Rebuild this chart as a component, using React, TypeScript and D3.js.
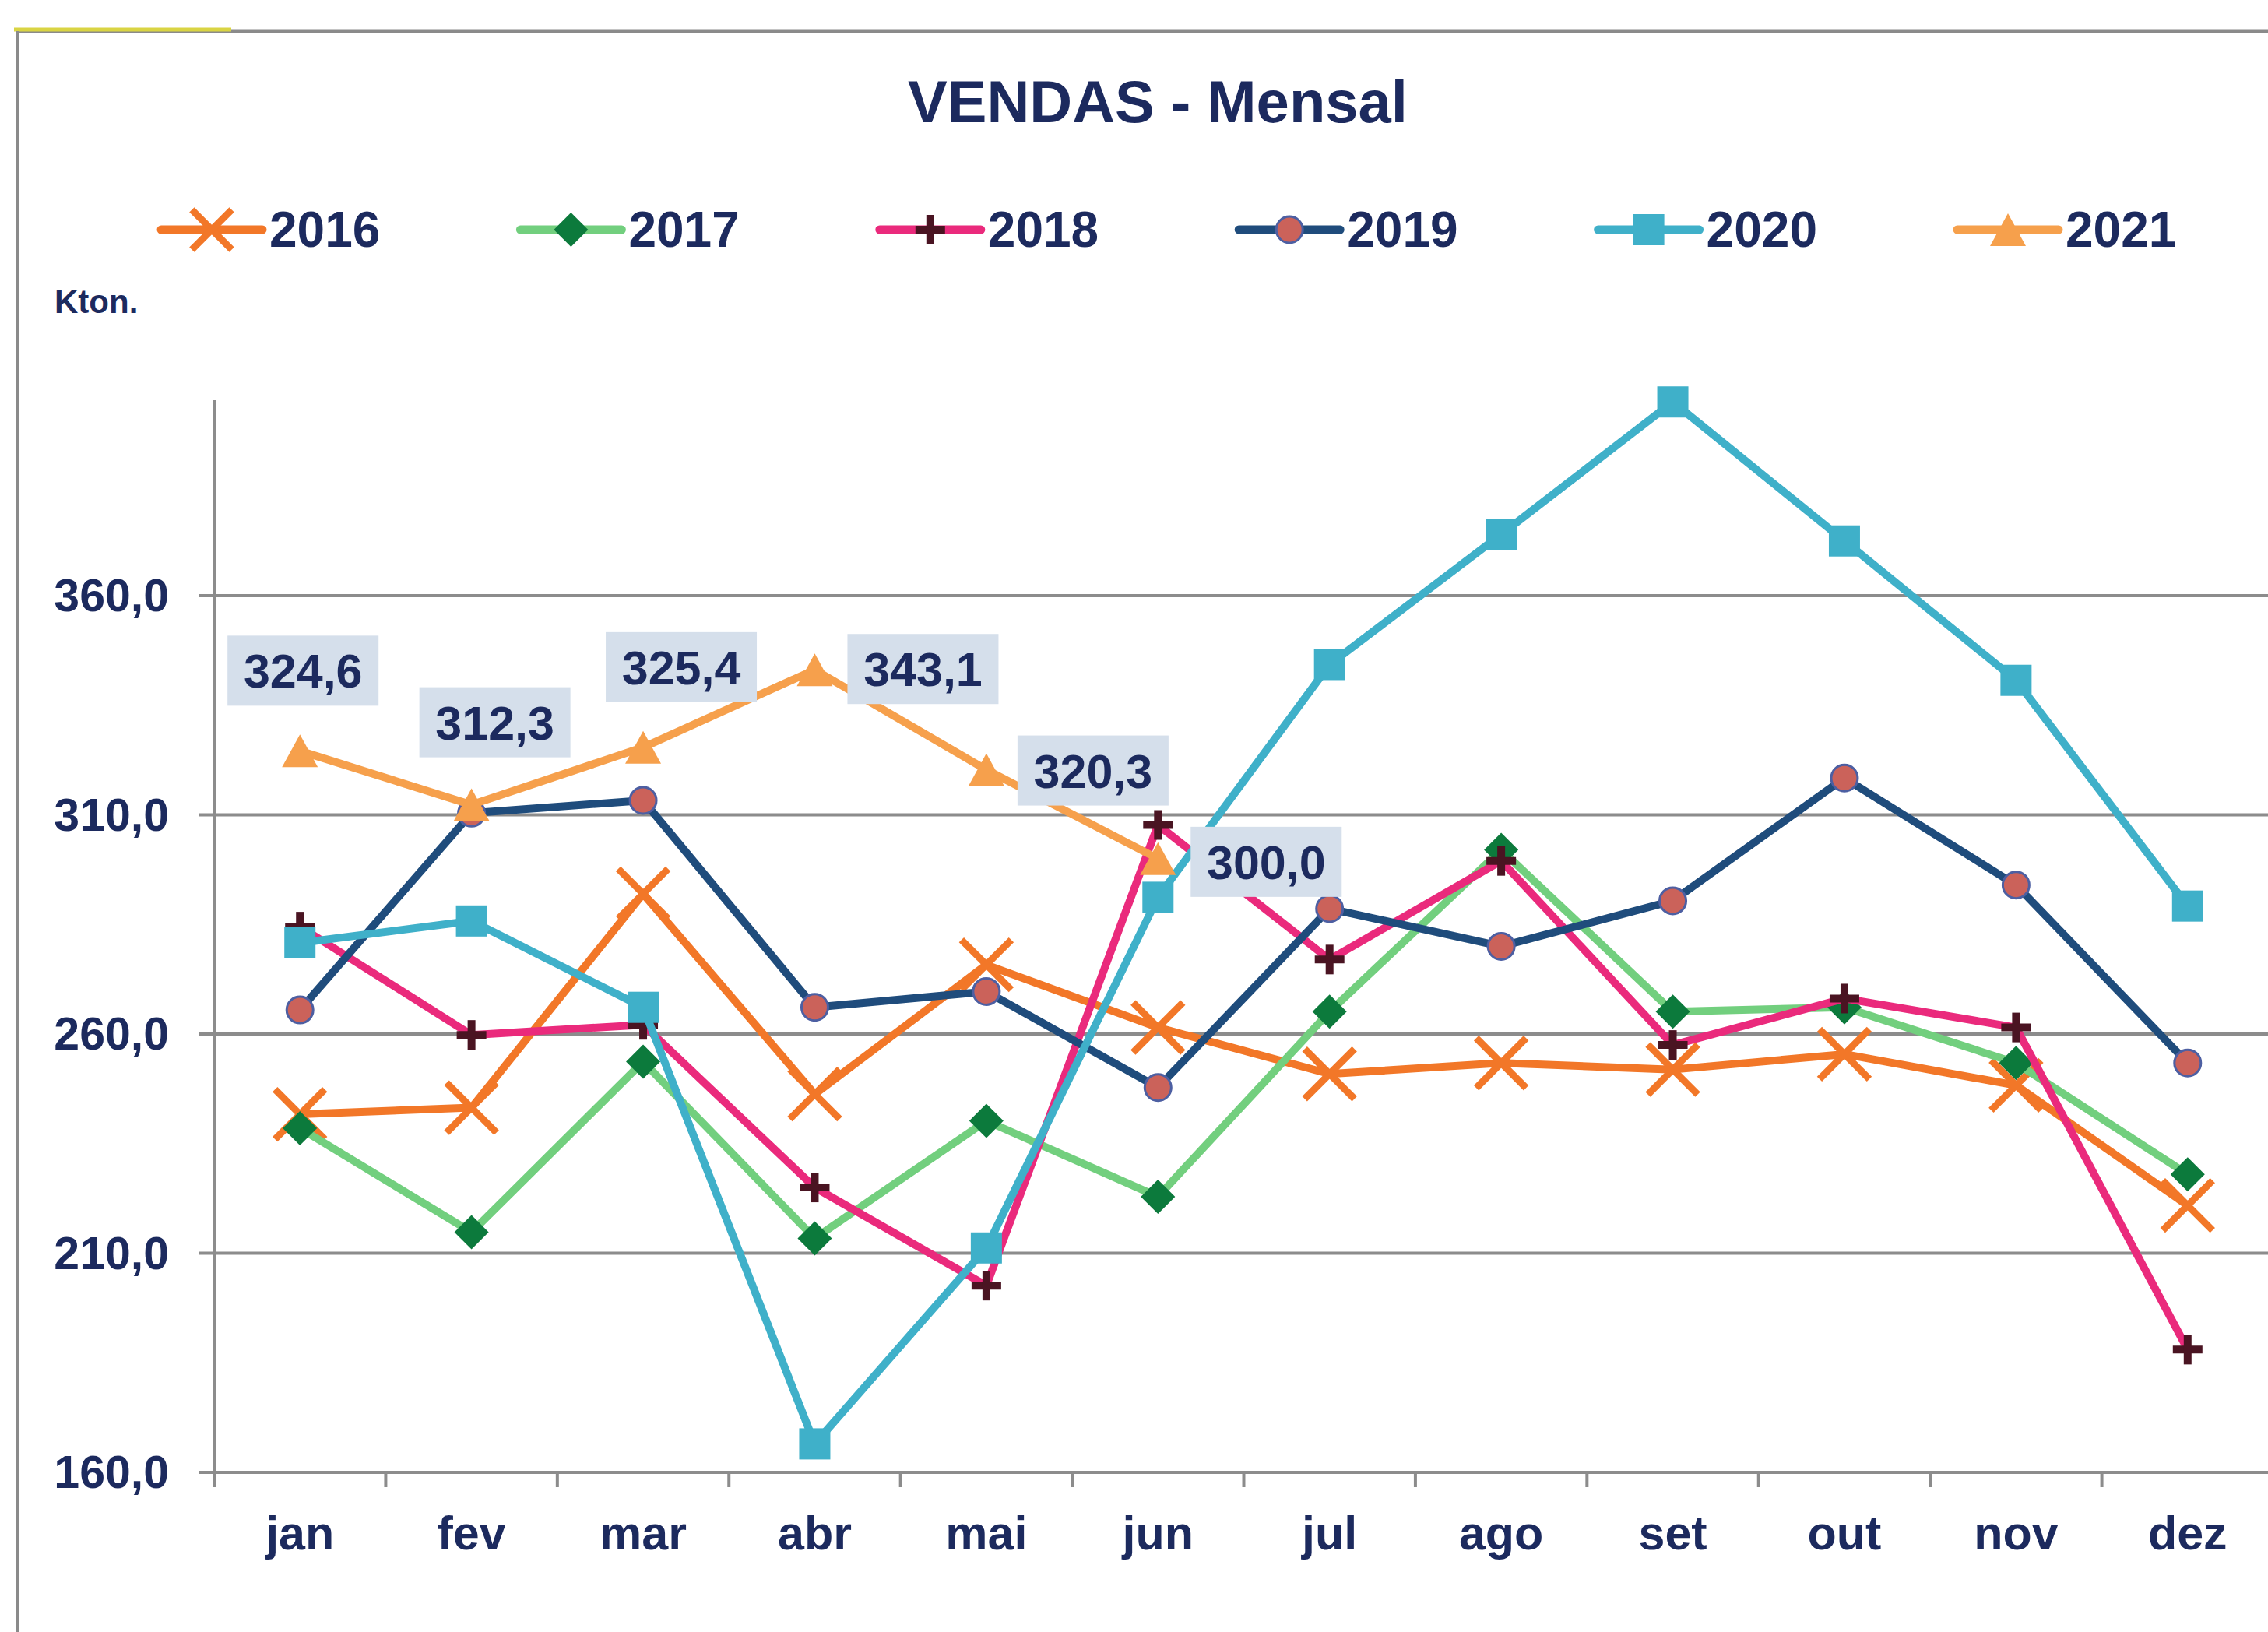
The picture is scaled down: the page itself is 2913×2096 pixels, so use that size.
import React from "react";
import * as d3 from "d3";

const months = ["jan", "fev", "mar", "abr", "mai", "jun", "jul", "ago", "set", "out", "nov", "dez"];
const years = ["2016", "2017", "2018", "2019", "2020", "2021"];

const v2016 = [241.7, 243.2, 292.0, 246.3, 275.8, 261.5, 250.9, 253.4, 251.9, 255.4, 248.3, 220.9];
const v2017 = [238.5, 214.8, 253.7, 213.4, 240.2, 222.9, 265.1, 302.0, 265.1, 266.1, 253.4, 228.0];
const v2018 = [284.5, 259.8, 262.1, 225.0, 202.6, 307.7, 277.0, 299.5, 257.5, 268.1, 261.5, 188.0];
const v2019 = [265.5, 310.4, 313.3, 266.1, 269.7, 247.8, 288.6, 280.0, 290.4, 318.4, 294.0, 253.4];
const v2020 = [280.8, 285.8, 266.1, 166.5, 211.2, 291.2, 344.3, 374.0, 404.2, 372.5, 340.7, 289.2];
const v2021 = [324.6, 312.3, 325.4, 343.1, 320.3, 300.0];

const yTicks = [160, 210, 260, 310, 360];
const yMin = 160;
const yMax = 404.6;

// label box placement offsets (layout only) for the 2021 data labels
const labelOffsets: [number, number][] = [
  [4, -103], [30, -106], [49, -103], [139, -1], [137, 1], [139, 4],
];

const W = 2913;
const H = 2096;
const NAVY = "#1c2a5e";
const FONT = "'Liberation Sans', Arial, Helvetica, sans-serif";

type Series = {
  name: string;
  values: number[];
  line: string;
  marker: string;
  fill: string;
  stroke?: string;
};

const seriesList: Series[] = [
  { name: years[0], values: v2016, line: "#f27728", marker: "x", fill: "#f27728" },
  { name: years[1], values: v2017, line: "#72cf7e", marker: "diamond", fill: "#0c7a3c" },
  { name: years[2], values: v2018, line: "#ea2a7c", marker: "plus", fill: "#4a1422" },
  { name: years[3], values: v2019, line: "#1f4c7c", marker: "circle", fill: "#cb625a", stroke: "#4d5fa2" },
  { name: years[4], values: v2020, line: "#3fb0c9", marker: "square", fill: "#3fb0c9" },
  { name: years[5], values: v2021, line: "#f6a04c", marker: "triangle", fill: "#f6a04c" },
];

function Marker({ kind, x, y, fill, stroke, scale = 1 }: { kind: string; x: number; y: number; fill: string; stroke?: string; scale?: number }) {
  const s = scale;
  switch (kind) {
    case "x": {
      const h = 32 * s;
      return (
        <g stroke={fill} strokeWidth={9} strokeLinecap="butt">
          <line x1={x - h} y1={y - h} x2={x + h} y2={y + h} />
          <line x1={x - h} y1={y + h} x2={x + h} y2={y - h} />
        </g>
      );
    }
    case "diamond": {
      const h = 22 * s;
      return <path d={`M${x},${y - h}L${x + h},${y}L${x},${y + h}L${x - h},${y}Z`} fill={fill} />;
    }
    case "plus": {
      const h = 19 * s;
      return (
        <g stroke={fill} strokeWidth={10}>
          <line x1={x - h} y1={y} x2={x + h} y2={y} />
          <line x1={x} y1={y - h} x2={x} y2={y + h} />
        </g>
      );
    }
    case "circle":
      return <circle cx={x} cy={y} r={17 * s} fill={fill} stroke={stroke} strokeWidth={3} />;
    case "square": {
      const h = 20 * s;
      return <rect x={x - h} y={y - h} width={2 * h} height={2 * h} fill={fill} />;
    }
    case "triangle": {
      const hw = 23 * s;
      const hh = 21 * s;
      return <path d={`M${x},${y - hh}L${x + hw},${y + hh}L${x - hw},${y + hh}Z`} fill={fill} />;
    }
    default:
      return null;
  }
}

export default function App() {
  const plotLeft = 275;
  const plotRight = 2920;
  const plotTop = 514;
  const plotBottom = 1891;

  const x = d3.scaleBand<string>().domain(months).range([plotLeft, plotRight]).padding(0);
  const y = d3.scaleLinear().domain([yMin, yMax]).range([plotBottom, plotTop]);
  const cx = (m: string) => (x(m) as number) + x.bandwidth() / 2;

  const locale = d3.formatLocale({ decimal: ",", thousands: ".", grouping: [3], currency: ["R$", ""] });
  const fmt = locale.format(".1f");

  const lineGen = d3
    .line<number>()
    .x((_, i) => cx(months[i]))
    .y((d) => y(d));

  const legendStart = 346;
  const legendStep = 461.4;
  const legendY = 295;

  return (
    <svg
      width={W}
      height={H}
      viewBox={`0 0 ${W} ${H}`}
      style={{ position: "absolute", left: 0, top: 0, background: "#fff" }}
      fontFamily={FONT}
    >
      <rect x={0} y={0} width={W} height={H} fill="#fff" />
      {/* chart frame */}
      <line x1={20} y1={40} x2={W} y2={40} stroke="#8a8a8a" strokeWidth={5} />
      <line x1={18} y1={38} x2={297} y2={38} stroke="#d9d443" strokeWidth={5} />
      <line x1={22} y1={40} x2={22} y2={H} stroke="#8a8a8a" strokeWidth={4} />

      {/* title */}
      <text x={1487} y={157} textAnchor="middle" fontSize={76} fontWeight="bold" fill={NAVY}>
        VENDAS - Mensal
      </text>

      {/* legend */}
      {seriesList.map((s, i) => {
        const tx = legendStart + i * legendStep;
        const mx = tx - 74;
        return (
          <g key={s.name}>
            <line x1={tx - 139} y1={legendY} x2={tx - 9} y2={legendY} stroke={s.line} strokeWidth={11} strokeLinecap="round" />
            <Marker kind={s.marker} x={mx} y={legendY} fill={s.fill} stroke={s.stroke} scale={s.marker === "x" ? 0.8 : 1} />
            <text x={tx} y={legendY + 22} fontSize={64} fontWeight="bold" fill={NAVY}>
              {s.name}
            </text>
          </g>
        );
      })}

      {/* unit */}
      <text x={70} y={402} fontSize={42} fontWeight="bold" fill={NAVY}>
        Kton.
      </text>

      {/* gridlines and y ticks */}
      {yTicks.map((t) => (
        <g key={t}>
          <line x1={plotLeft - 20} y1={y(t)} x2={W} y2={y(t)} stroke="#8c8c8c" strokeWidth={4} />
          <text x={217} y={y(t) + 20} textAnchor="end" fontSize={59} fontWeight="bold" fill={NAVY}>
            {fmt(t)}
          </text>
        </g>
      ))}

      {/* y axis line */}
      <line x1={plotLeft} y1={y(yMax)} x2={plotLeft} y2={y(yMin)} stroke="#8c8c8c" strokeWidth={4} />

      {/* x ticks & labels */}
      {months.map((m) => (
        <g key={m}>
          <line x1={x(m) as number} y1={plotBottom} x2={x(m) as number} y2={plotBottom + 19} stroke="#8c8c8c" strokeWidth={4} />
          <text x={cx(m)} y={1990} textAnchor="middle" fontSize={61} fontWeight="bold" fill={NAVY}>
            {m}
          </text>
        </g>
      ))}

      {/* series */}
      {seriesList.map((s) => (
        <g key={s.name}>
          <path d={lineGen(s.values) as string} fill="none" stroke={s.line} strokeWidth={10} strokeLinejoin="round" />
          {s.values.map((v, i) => (
            <Marker key={i} kind={s.marker} x={cx(months[i])} y={y(v)} fill={s.fill} stroke={s.stroke} />
          ))}
        </g>
      ))}

      {/* data labels for 2021 */}
      {v2021.map((v, i) => {
        const [dx, dy] = labelOffsets[i];
        const bx = cx(months[i]) + dx;
        const by = y(v) + dy;
        return (
          <g key={i}>
            <rect x={bx - 97} y={by - 45} width={194} height={90} fill="#d5dfeb" />
            <text x={bx} y={by + 22} textAnchor="middle" fontSize={61} fontWeight="bold" fill={NAVY}>
              {fmt(v)}
            </text>
          </g>
        );
      })}
    </svg>
  );
}
